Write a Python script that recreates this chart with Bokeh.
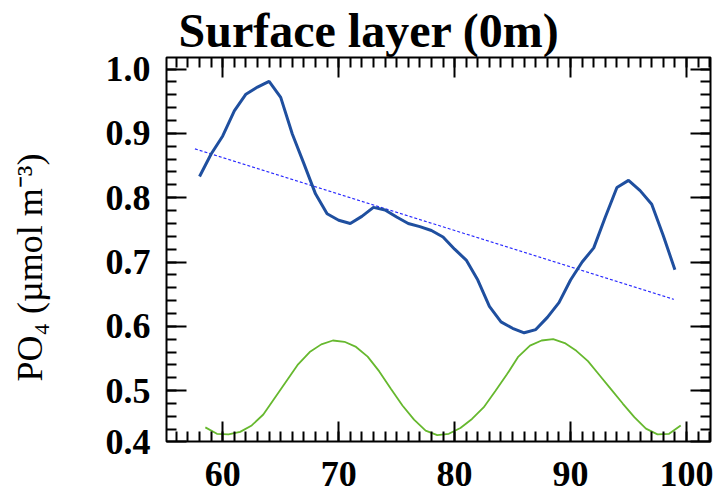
import numpy as np
from bokeh.plotting import figure
from bokeh.models import (Range1d, LinearAxis, FixedTicker, PrintfTickFormatter,
                          CustomLabelingPolicy)
from bokeh.embed import file_html
from bokeh.resources import INLINE

# ---- data ----
x_po4 = list(range(58, 100))
po4 = [0.833, 0.868, 0.896, 0.935, 0.961, 0.972, 0.981, 0.956, 0.899, 0.853,
       0.806, 0.775, 0.765, 0.760, 0.771, 0.785, 0.781, 0.770, 0.760, 0.755,
       0.749, 0.739, 0.720, 0.703, 0.672, 0.631, 0.607, 0.597, 0.590, 0.595,
       0.614, 0.637, 0.672, 0.700, 0.722, 0.770, 0.816, 0.827, 0.811, 0.790,
       0.741, 0.688]

x_clim = [58.5 + i for i in range(42)]
clim = [0.443, 0.433, 0.432, 0.436, 0.446, 0.463, 0.489, 0.515, 0.541, 0.560,
        0.572, 0.578, 0.576, 0.568, 0.553, 0.530, 0.503, 0.477, 0.455, 0.438,
        0.431, 0.433, 0.442, 0.456, 0.474, 0.499, 0.525, 0.553, 0.570, 0.578,
        0.580, 0.574, 0.562, 0.546, 0.524, 0.502, 0.480, 0.459, 0.441, 0.432,
        0.433, 0.446]

trend_x = [57.6, 98.9]
trend_y = [0.876, 0.642]

x_ticks = [60, 70, 80, 90, 100]
y_ticks = [0.4, 0.5, 0.6, 0.7, 0.8, 0.9, 1.0]

title_text = "Surface layer (0m)"
ylabel_text = "PO\u2084 (\u00b5mol m\u207b\u00b3)"

# ---- axes extents ----
X0, X1 = 55.15, 102.07
Y0, Y1 = 0.421, 1.018

p = figure(width=713, height=493, output_backend="svg", toolbar_location=None,
           x_range=Range1d(X0, X1), y_range=Range1d(Y0, Y1),
           min_border_left=166, min_border_right=3, min_border_top=57,
           min_border_bottom=52, title=title_text)

p.background_fill_color = "white"
p.border_fill_color = "white"
p.outline_line_color = "black"
p.outline_line_width = 2
p.xgrid.visible = False
p.ygrid.visible = False

p.title.text_font = "Liberation Serif"
p.title.text_font_size = "48px"
p.title.text_font_style = "bold"
p.title.text_color = "black"
p.title.align = "left"
p.title.offset = 12
p.title.standoff = 2

x_ticker = FixedTicker(ticks=x_ticks, minor_ticks=list(range(56, 103)))
y_major = [Y0] + y_ticks[1:]
y_minor = [round(v, 2) for v in np.arange(0.44, 1.0101, 0.02)]
y_ticker = FixedTicker(ticks=y_major, minor_ticks=y_minor)

no_labels = CustomLabelingPolicy(
    code="for (const i of indices) { indices.unset(i) }\nreturn indices")


def style(ax, labels=True):
    ax.axis_line_color = None
    ax.major_tick_in = 20
    ax.major_tick_out = 0
    ax.minor_tick_in = 10
    ax.minor_tick_out = 0
    ax.major_tick_line_width = 2
    ax.minor_tick_line_width = 2
    ax.major_tick_line_color = "black"
    ax.minor_tick_line_color = "black"
    ax.major_label_text_font = "Liberation Serif"
    ax.major_label_text_font_style = "bold"
    ax.major_label_text_color = "black"
    if labels:
        ax.major_label_text_font_size = "36px"
    else:
        ax.major_label_text_font_size = "0px"
        ax.major_label_standoff = 0
        ax.major_label_policy = no_labels


xb = p.xaxis[0]
xb.ticker = x_ticker
style(xb)
xb.major_label_standoff = 20

yl = p.yaxis[0]
yl.ticker = y_ticker
yl.formatter = PrintfTickFormatter(format="%.1f")
style(yl)
yl.major_label_standoff = 16

xt = LinearAxis(ticker=x_ticker)
style(xt, labels=False)
p.add_layout(xt, "above")

yr = LinearAxis(ticker=y_ticker)
style(yr, labels=False)
p.add_layout(yr, "right")

# outer left axis that only carries the axis title
ylab_axis = LinearAxis(ticker=FixedTicker(ticks=[]),
                       axis_label=ylabel_text + "\u2003")
ylab_axis.axis_line_color = None
ylab_axis.major_tick_line_color = None
ylab_axis.minor_tick_line_color = None
ylab_axis.major_tick_out = 0
ylab_axis.minor_tick_out = 0
ylab_axis.major_label_text_font_size = "0px"
ylab_axis.major_label_standoff = 0
ylab_axis.major_label_policy = no_labels
ylab_axis.axis_label_standoff = 53
ylab_axis.axis_label_text_font = "Liberation Serif"
ylab_axis.axis_label_text_font_size = "36px"
ylab_axis.axis_label_text_font_style = "normal"
ylab_axis.axis_label_text_color = "black"
p.add_layout(ylab_axis, "left")

# ---- data ----
p.line(x_clim, clim, line_color="#66b82e", line_width=1.8)
p.line(trend_x, trend_y, line_color="#2a2aff", line_width=1.2, line_dash="3 2")
p.line(x_po4, po4, line_color="#1f4f9f", line_width=3)

open("out.html", "w").write(file_html(p, INLINE))
